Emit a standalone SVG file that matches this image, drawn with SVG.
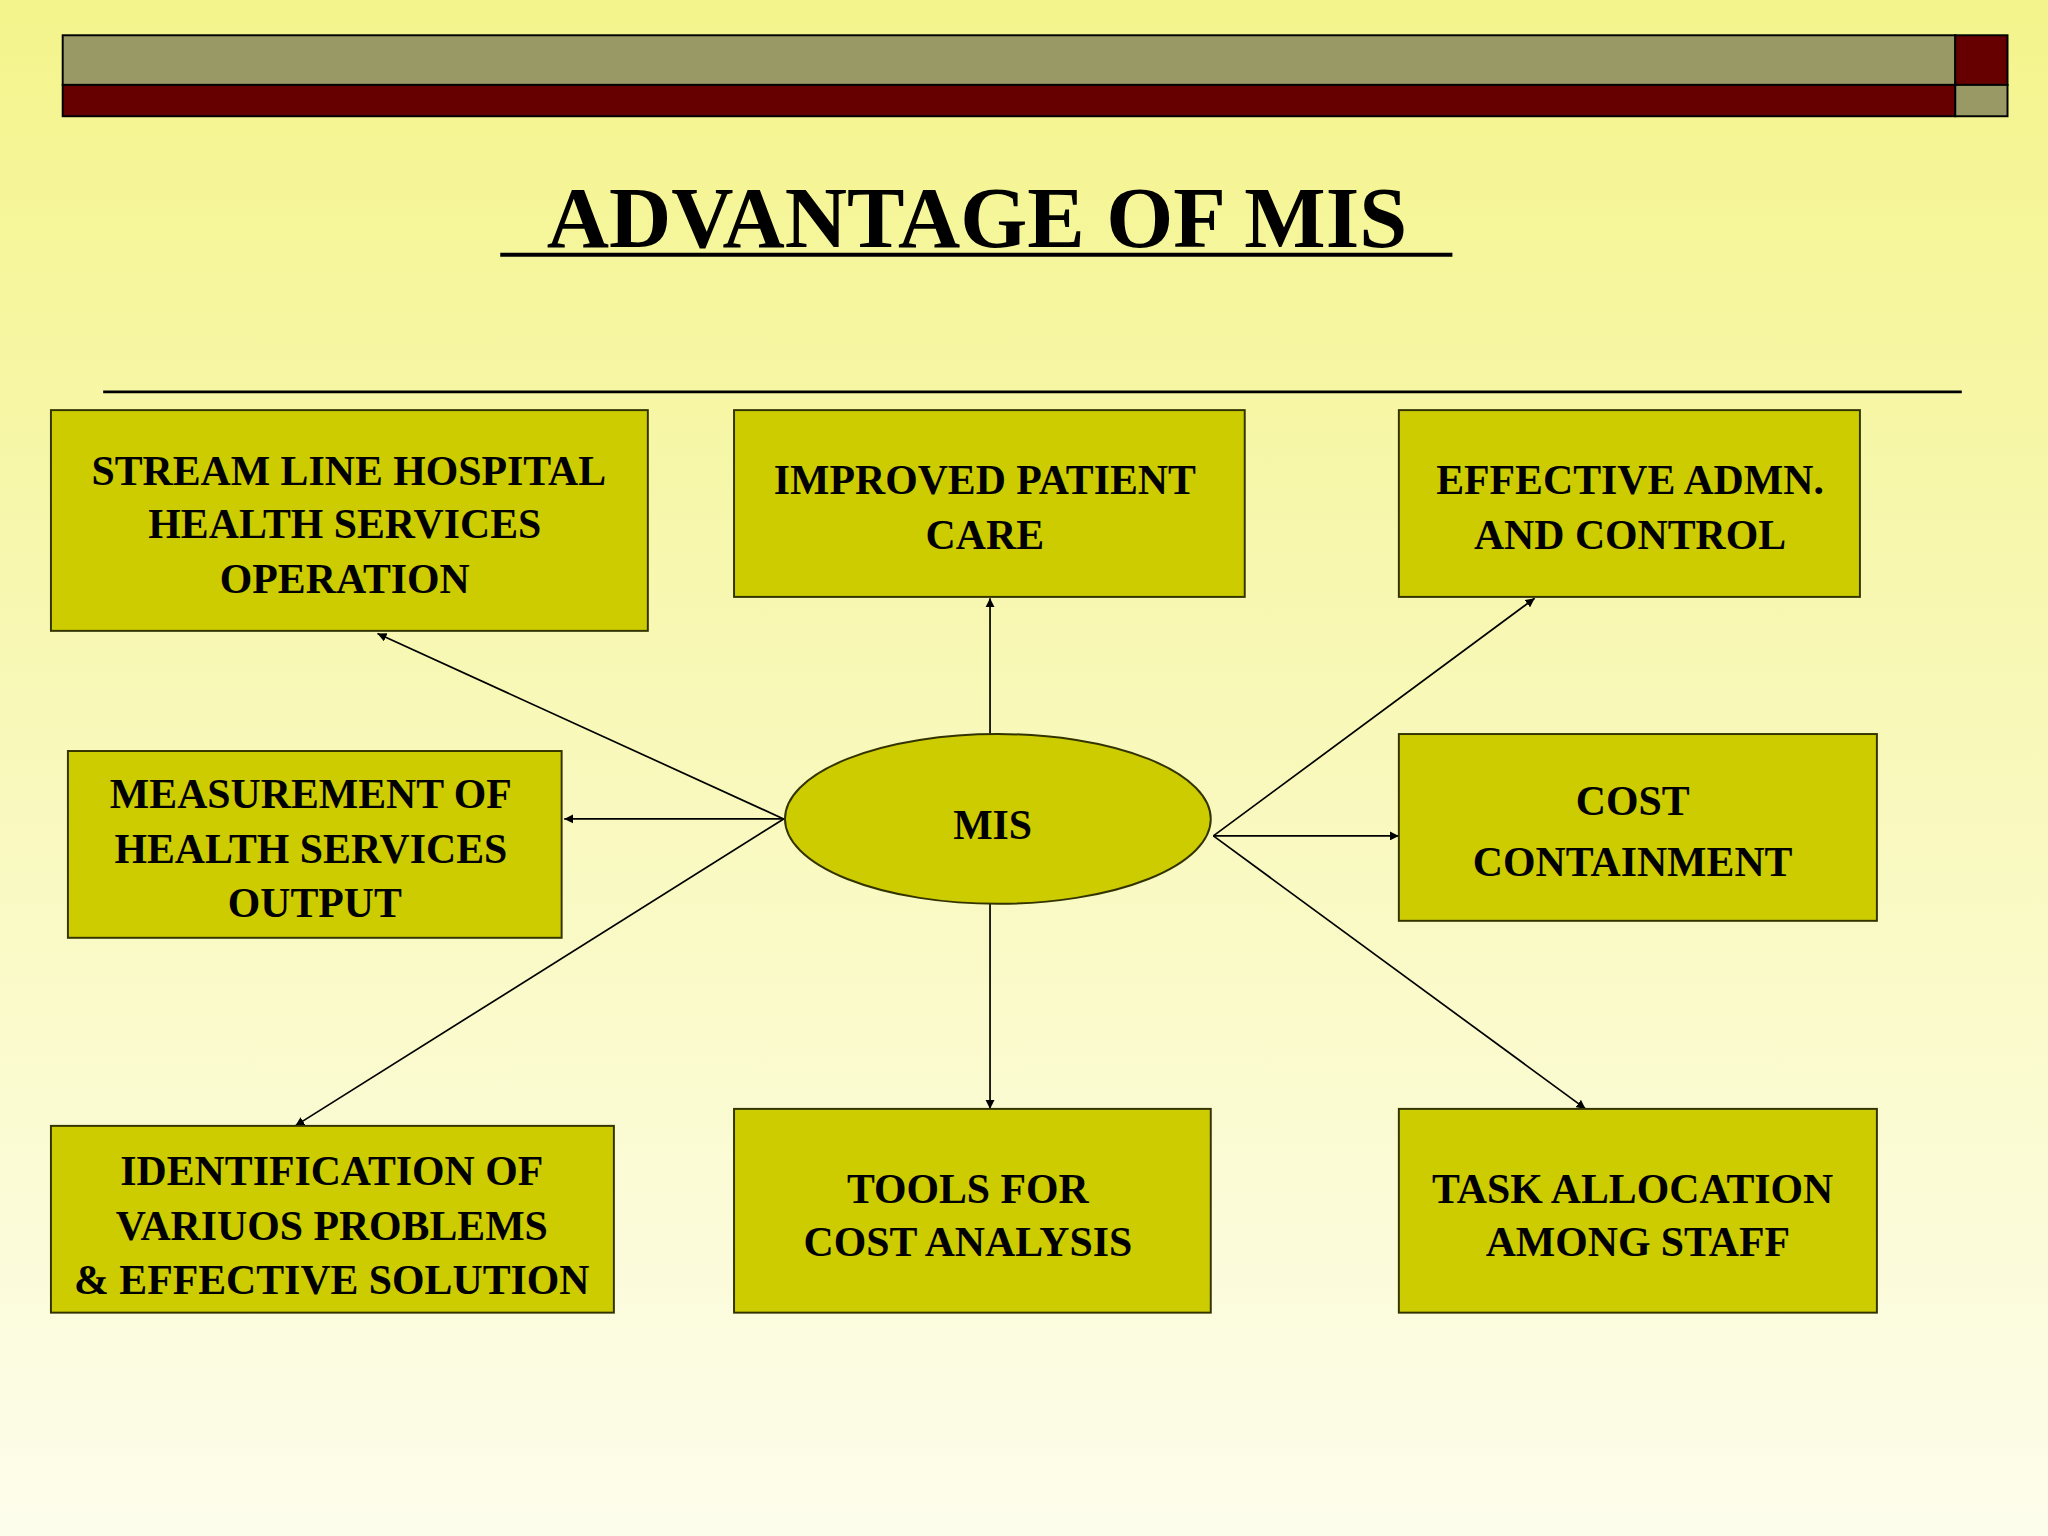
<svg xmlns="http://www.w3.org/2000/svg" width="2048" height="1536" viewBox="0 0 2048 1536">
<defs>
<linearGradient id="bg" x1="0" y1="0" x2="0" y2="1"><stop offset="0" stop-color="#F4F48C"/><stop offset="1" stop-color="#FDFDEC"/></linearGradient>
<marker id="ah" viewBox="0 0 10 10" refX="10" refY="5" markerWidth="7" markerHeight="7" orient="auto" markerUnits="userSpaceOnUse"><path d="M0,0 L10,5 L0,10 z" fill="#000"/></marker>
<style>
.box{fill:#CCCC00;stroke:#333300;stroke-width:1.5}
.t{font-family:"Liberation Serif",serif;font-weight:bold;font-size:32px;fill:#000;text-anchor:middle}
.c{stroke:#000;stroke-width:1.3;fill:none;marker-end:url(#ah)}
</style>
</defs>
<rect width="2048" height="1536" fill="url(#bg)"/>
<g transform="scale(1.30612)">
<g id="header">
<rect x="48" y="27" width="1449" height="38" fill="#999966" stroke="#000" stroke-width="1.5"/>
<rect x="48" y="65" width="1449" height="24" fill="#660000" stroke="#000" stroke-width="1.5"/>
<rect x="1497" y="27" width="40" height="38" fill="#660000" stroke="#000" stroke-width="1.5"/>
<rect x="1497" y="65" width="40" height="24" fill="#999966" stroke="#000" stroke-width="1.5"/>
</g>
<g id="title">
<text x="748" y="189" font-family="Liberation Serif, serif" font-weight="bold" font-size="66" text-anchor="middle">ADVANTAGE OF MIS </text>
<line x1="383" y1="195" x2="1112" y2="195" stroke="#000" stroke-width="3"/>
<line x1="79" y1="300" x2="1502" y2="300" stroke="#000" stroke-width="2"/>
</g>
<g id="connectors">
<line class="c" x1="600" y1="627" x2="289" y2="485"/>
<line class="c" x1="600" y1="627" x2="432" y2="627"/>
<line class="c" x1="600" y1="627" x2="226" y2="862"/>
<line class="c" x1="758" y1="562" x2="758" y2="458"/>
<line class="c" x1="758" y1="692" x2="758" y2="849"/>
<line class="c" x1="929" y1="640" x2="1175" y2="458"/>
<line class="c" x1="929" y1="640" x2="1071" y2="640"/>
<line class="c" x1="929" y1="640" x2="1214" y2="849"/>
</g>
<g id="n1"><rect class="box" x="39" y="314" width="457" height="169"/>
<text class="t" x="267" y="371">STREAM LINE HOSPITAL</text><text class="t" x="264" y="412">HEALTH SERVICES</text><text class="t" x="264" y="454">OPERATION</text></g>
<g id="n2"><rect class="box" x="562" y="314" width="391" height="143"/>
<text class="t" x="754" y="378">IMPROVED PATIENT</text><text class="t" x="754" y="420">CARE</text></g>
<g id="n3"><rect class="box" x="1071" y="314" width="353" height="143"/>
<text class="t" x="1248" y="378">EFFECTIVE ADMN.</text><text class="t" x="1248" y="420">AND CONTROL</text></g>
<g id="n4"><rect class="box" x="52" y="575" width="378" height="143"/>
<text class="t" x="238" y="619">MEASUREMENT OF</text><text class="t" x="238" y="661">HEALTH SERVICES</text><text class="t" x="241" y="702">OUTPUT</text></g>
<g id="mis"><ellipse class="box" cx="764" cy="627" rx="163" ry="65"/>
<text class="t" x="760" y="642" font-size="36">MIS</text></g>
<g id="n5"><rect class="box" x="1071" y="562" width="366" height="143"/>
<text class="t" x="1250" y="624">COST</text><text class="t" x="1250" y="671">CONTAINMENT</text></g>
<g id="n6"><rect class="box" x="39" y="862" width="431" height="143"/>
<text class="t" x="254" y="907">IDENTIFICATION OF</text><text class="t" x="254" y="949">VARIUOS PROBLEMS</text><text class="t" x="254" y="991">&amp; EFFECTIVE SOLUTION</text></g>
<g id="n7"><rect class="box" x="562" y="849" width="365" height="156"/>
<text class="t" x="741" y="921">TOOLS FOR</text><text class="t" x="741" y="962">COST ANALYSIS</text></g>
<g id="n8"><rect class="box" x="1071" y="849" width="366" height="156"/>
<text class="t" x="1250" y="921">TASK ALLOCATION</text><text class="t" x="1254" y="962">AMONG STAFF</text></g>
</g>
</svg>
